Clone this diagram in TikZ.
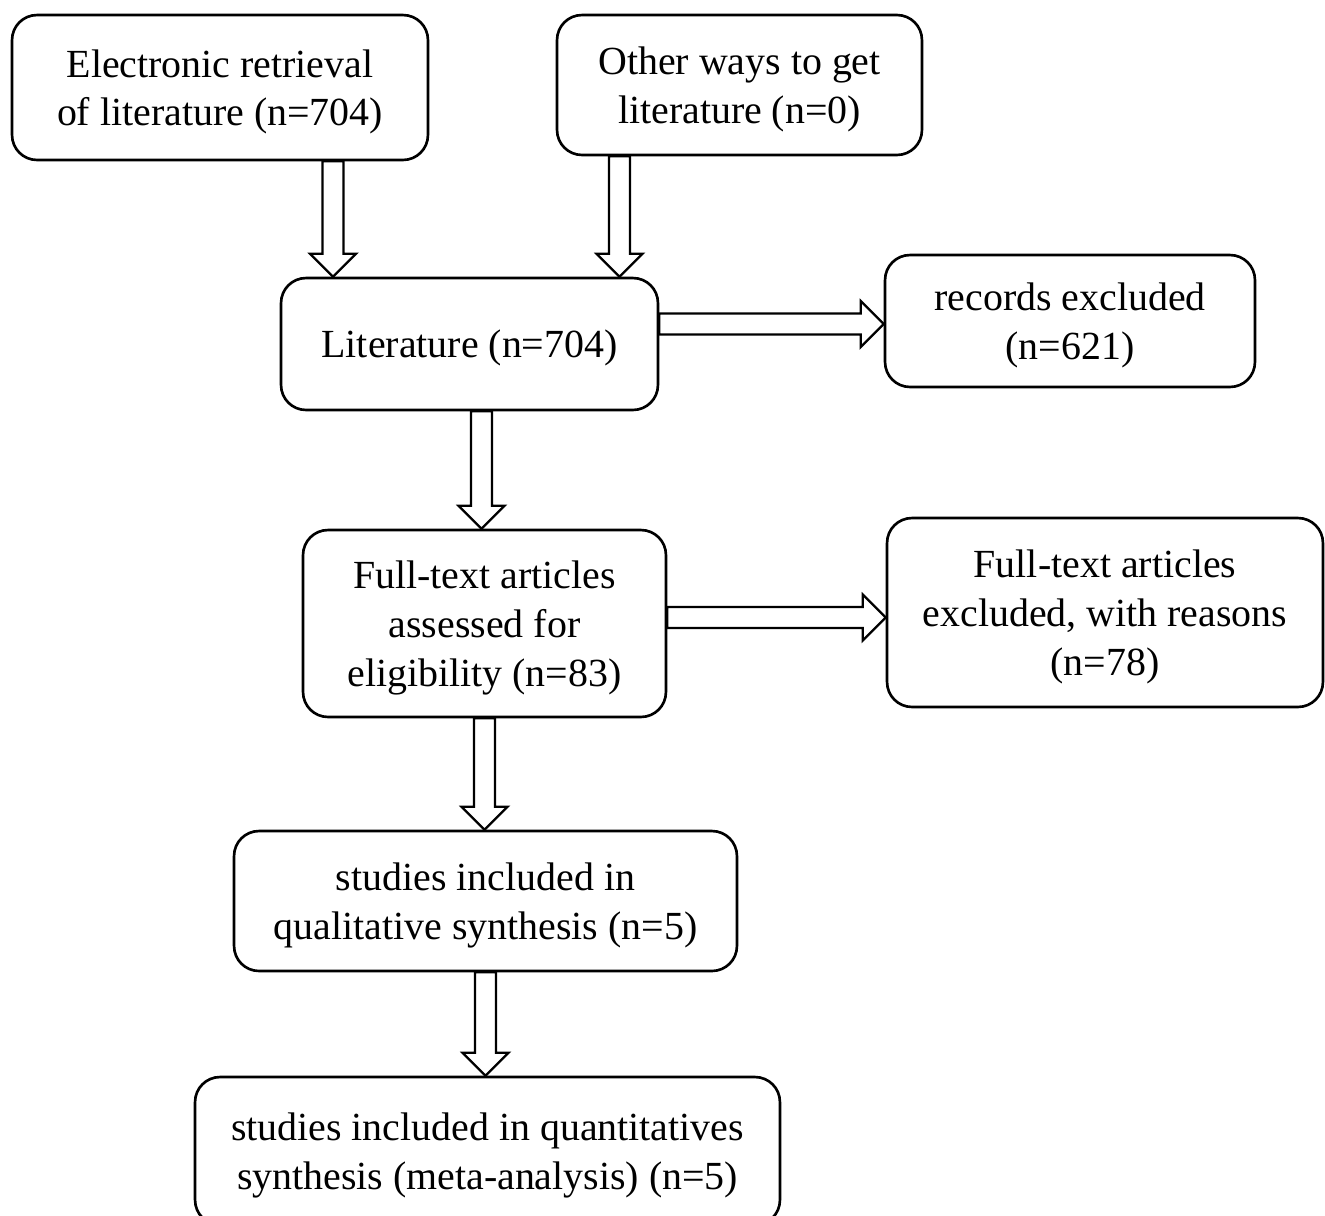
\documentclass[tikz,border=0pt]{standalone}
\usepackage{fontspec}
\setmainfont{Liberation Serif}
\usetikzlibrary{calc}

\tikzset{box/.style={draw, rounded corners=0.5cm, line width=1.5pt, align=center,
    inner sep=0pt, text depth=0pt, font=\fontsize{22.7}{27.7}\selectfont}}

% hollow block arrow from #1 to #2
\newcommand{\hollowarrow}[2]{%
  \draw[line width=1.3pt, fill=white] let \p1=(#1), \p2=(#2),
    \n1={atan2(\y2-\y1,\x2-\x1)}, \n2={veclen(\x2-\x1,\y2-\y1)} in
    [shift={(\p1)}, rotate=\n1]
    (0pt,-0.21cm) -- ({\n2-0.46cm},-0.21cm) -- ({\n2-0.46cm},-0.46cm) -- (\n2,0pt)
    -- ({\n2-0.46cm},0.46cm) -- ({\n2-0.46cm},0.21cm) -- (0pt,0.21cm) -- cycle;}

\begin{document}
\begin{tikzpicture}[x=0.02cm,y=-0.02cm]
		\path[use as bounding box, clip] (0,0) rectangle (1325,1215);
		%
		\node[box, minimum width=8.32cm, minimum height=2.9cm] (E) at (220,87.5) {Electronic retrieval\\of literature (n=704)};
		\node[box, minimum width=7.3cm, minimum height=2.8cm] (O) at (739.5,85) {Other ways to get\\literature (n=0)};
		\node[box, minimum width=7.54cm, minimum height=2.64cm] (L) at (469.5,344) {Literature (n=704)};
		\node[box, minimum width=7.4cm, minimum height=2.64cm] (R) at (1070,321) {records excluded\\(n=621)};
		\node[box, minimum width=7.26cm, minimum height=3.74cm] (F) at (484.5,623.5) {Full-text articles\\assessed for\\eligibility (n=83)};
		\node[box, minimum width=8.72cm, minimum height=3.78cm] (X) at (1105,612.5) {Full-text articles\\excluded, with reasons\\(n=78)};
		\node[box, minimum width=10.06cm, minimum height=2.8cm] (Q) at (485.5,901) {studies included in\\qualitative synthesis (n=5)};
		\node[box, minimum width=11.7cm, minimum height=2.96cm] (M) at (487.5,1151) {studies included in quantitatives\\synthesis (meta-analysis) (n=5)};
		%
		\coordinate (E') at ($(E.south)+(113,0)$);
		\coordinate (O') at ($(O.south)+(-120,0)$);
		\coordinate (L') at ($(L.east)+(0,-20)$);
		\coordinate (L'') at ($(L.south)+(12,0)$);
		\coordinate (F') at ($(F.east)+(0,-6)$);
		% vertical arrows
		\hollowarrow{E'}{E' |- L.north}
		\hollowarrow{O'}{O' |- L.north}
		\hollowarrow{L''}{L'' |- F.north}
		\hollowarrow{F.south}{F.south |- Q.north}
		\hollowarrow{Q.south}{Q.south |- M.north}
		% horizontal arrows
		\hollowarrow{L'}{L' -| R.west}
		\hollowarrow{F'}{F' -| X.west}
	\end{tikzpicture}
\end{document}
